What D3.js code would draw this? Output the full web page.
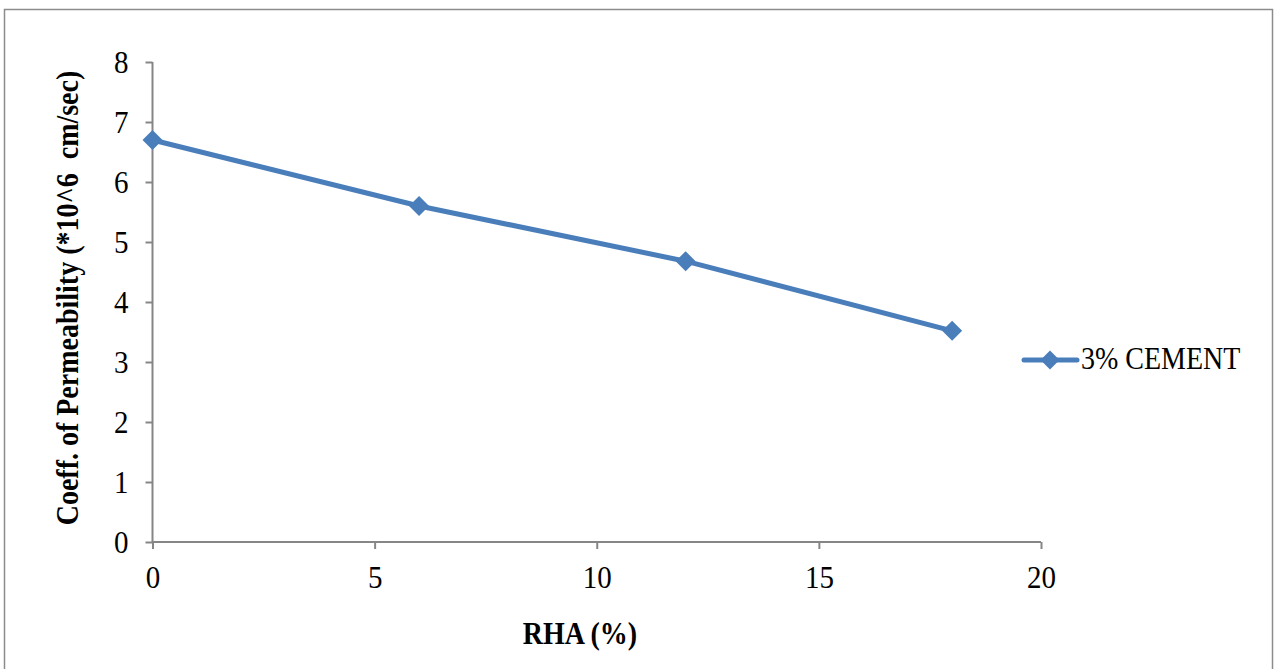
<!DOCTYPE html>
<html>
<head>
<meta charset="utf-8">
<script src="https://cdn.jsdelivr.net/npm/d3@7"></script>
<style>
  html, body { margin: 0; padding: 0; background: #fff; }
  svg { display: block; }
  text { font-family: "Liberation Serif", "Times New Roman", serif; fill: #000; }
</style>
</head>
<body>
<svg id="chart" width="1277" height="669"></svg>
<script>
// Data
const rhaPercent = [0, 6, 12, 18];
const permeability = [6.7, 5.6, 4.68, 3.52];
const seriesName = "3% CEMENT";
const xTicks = [0, 5, 10, 15, 20];
const yTicks = [0, 1, 2, 3, 4, 5, 6, 7, 8];
const xTitle = "RHA (%)";
const yTitle = "Coeff. of Permeability (*10^6  cm/sec)";

const svg = d3.select("#chart");
const axisColor = "#868686";
const lineColor = "#4a7ebb";
const tickFs = 29;
const fs = 28;
const k = 1.1; // glyph vertical stretch seen in reference

// outer border
svg.append("rect")
  .attr("x", 4.5).attr("y", 9.5)
  .attr("width", 1268).attr("height", 700)
  .attr("fill", "none").attr("stroke", "#8c8c8c").attr("stroke-width", 1.5);

const x = d3.scaleLinear().domain([0, 20]).range([152.5, 1041]);
const y = d3.scaleLinear().domain([0, 8]).range([542, 62]);

// Y axis
const yAxis = svg.append("g").attr("transform", `translate(${x(0)},0)`)
  .call(d3.axisLeft(y).tickValues(yTicks).tickSize(7).tickPadding(0).tickFormat(d3.format("d")));
// X axis
const xAxis = svg.append("g").attr("transform", `translate(0,${y(0)})`)
  .call(d3.axisBottom(x).tickValues(xTicks).tickSize(7).tickPadding(0).tickFormat(d3.format("d")));

[yAxis, xAxis].forEach(g => {
  g.select(".domain").attr("stroke", axisColor).attr("stroke-width", 2);
  g.selectAll(".tick line").attr("stroke", axisColor).attr("stroke-width", 2);
  g.selectAll(".tick text")
    .style("font-family", '"Liberation Serif", "Times New Roman", serif')
    .style("font-size", tickFs + "px").attr("fill", "#000");
});
yAxis.select(".domain").attr("d", `M0,${y(8)}V${y(0)}`);
xAxis.select(".domain").attr("d", `M${x(0)},0H${x(20)}`);

// position tick labels with vertical stretch
yAxis.selectAll(".tick text")
  .attr("x", null).attr("y", null).attr("dy", null)
  .attr("transform", `translate(-24,10.5) scale(1,${k})`);
xAxis.selectAll(".tick text")
  .attr("x", null).attr("y", null).attr("dy", null)
  .attr("transform", `translate(0,46) scale(1,${k})`);

// line
const pts = rhaPercent.map((d, i) => [d, permeability[i]]);
svg.append("path")
  .datum(pts)
  .attr("fill", "none")
  .attr("stroke", lineColor)
  .attr("stroke-width", 5)
  .attr("stroke-linejoin", "round")
  .attr("stroke-linecap", "round")
  .attr("d", d3.line().x(d => x(d[0])).y(d => y(d[1])));

const diamond = (cx, cy, r) => `M${cx},${cy - r}L${cx + r},${cy}L${cx},${cy + r}L${cx - r},${cy}Z`;
svg.selectAll(".marker").data(pts).enter().append("path")
  .attr("class", "marker")
  .attr("d", d => diamond(x(d[0]), y(d[1]), 10))
  .attr("fill", lineColor);

// axis titles
svg.append("text")
  .attr("transform", `translate(580,644) scale(1,${k})`)
  .attr("text-anchor", "middle")
  .style("font-size", fs + "px").style("font-weight", "bold")
  .text(xTitle);

svg.append("text")
  .attr("transform", `translate(78,298) rotate(-90) scale(1,${k})`)
  .attr("text-anchor", "middle")
  .style("font-size", fs + "px").style("font-weight", "bold")
  .attr("xml:space", "preserve")
  .style("white-space", "pre")
  .text(yTitle);

// legend
const ly = 360;
svg.append("line")
  .attr("x1", 1024).attr("x2", 1077).attr("y1", ly).attr("y2", ly)
  .attr("stroke", lineColor).attr("stroke-width", 5).attr("stroke-linecap", "round");
svg.append("path").attr("d", diamond(1050, ly, 9.5)).attr("fill", lineColor);
svg.append("text")
  .attr("transform", `translate(1081,${ly + 9}) scale(1,${k})`)
  .style("font-size", fs + "px")
  .text(seriesName);
</script>
</body>
</html>
